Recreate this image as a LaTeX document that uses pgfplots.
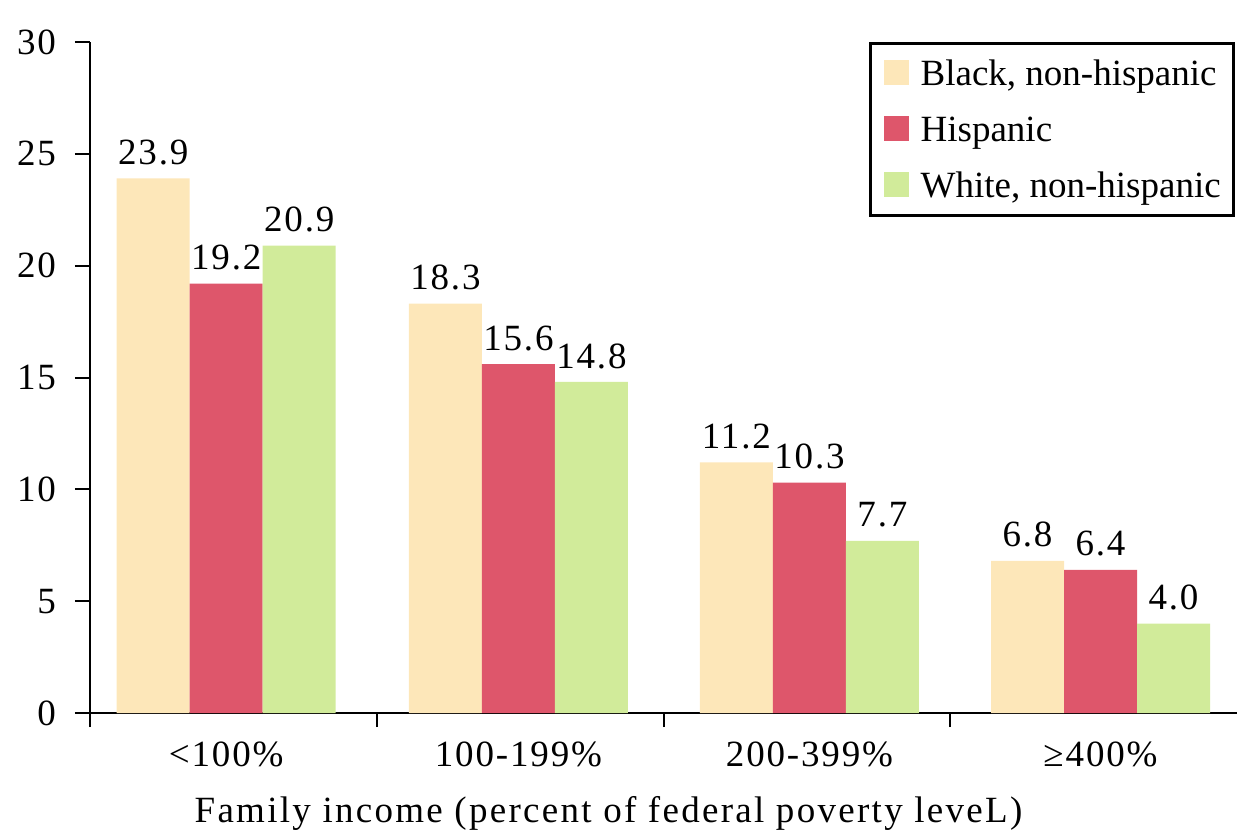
\documentclass[border=0pt]{standalone}
\usepackage{fontspec}
\setmainfont[LetterSpace=5]{Liberation Serif}
\newfontfamily\lgfont{Liberation Serif}
\newfontfamily\xlfont[LetterSpace=6.2]{Liberation Serif}
\usepackage{pgfplots}
\pgfplotsset{compat=1.18}
\definecolor{cb}{RGB}{253,231,185}
\definecolor{ch}{RGB}{222,86,107}
\definecolor{cw}{RGB}{209,235,154}
\newcommand{\cf}{\fontsize{18.5}{22}\selectfont}
\begin{document}
\begin{tikzpicture}
\begin{axis}[
  scale only axis, width=573.5pt, height=335.5pt,
  xmin=-0.5, xmax=3.5, ymin=0, ymax=30,
  ybar=0pt, bar width=36.5pt,
  axis x line*=bottom, axis y line*=left,
  axis line style={line width=1pt, black},
  xtick={-0.025,0.994,2.009,3.024},
  xticklabels={<100\%,100-199\%,200-399\%,≥400\%},
  major x tick style={draw=none},
  minor xtick={-0.5,0.5,1.5,2.5},
  minor tick length=7pt,
  minor x tick style={line width=1pt, black},
  ytick={0,5,...,30},
  tick align=outside, major tick length=7.5pt,
  major y tick style={line width=1pt, black},
  tick label style={font=\cf},
  xticklabel style={anchor=base, yshift=-19pt},
  yticklabel style={anchor=east, xshift=-6pt},
  /pgf/number format/assume math mode=true,
  xlabel={\xlfont Family income (percent of federal poverty leveL)},
  xlabel style={font=\cf, at={(axis description cs:0.452,0)}, anchor=base, yshift=-54.5pt},
  nodes near coords={\pgfmathprintnumber[fixed,fixed zerofill,precision=1,assume math mode=true]{\pgfplotspointmeta}},
  every node near coord/.append style={anchor=south, inner sep=0pt, yshift=6.5pt, font=\cf, black},
  legend image code/.code={\fill[#1] (0pt,0pt) rectangle (12.5pt,12.5pt);},
  legend style={at={(rel axis cs:1,1)}, anchor=north east, xshift=-1pt,
    draw=black, line width=1.3pt, font=\cf\lgfont,
    row sep=4pt, column sep=6pt, inner xsep=6.5pt, inner ysep=3pt,
    nodes={inner sep=0pt, text height=18pt, text depth=6pt},
    cells={anchor=base west}},
]
\addplot[fill=cb, draw=none] coordinates {(-0.025,23.9) (0.994,18.3) (2.009,11.2) (3.024,6.8)};
\addplot[fill=ch, draw=none] coordinates {(-0.025,19.2) (0.994,15.6) (2.009,10.3) (3.024,6.4)};
\addplot[fill=cw, draw=none] coordinates {(-0.025,20.9) (0.994,14.8) (2.009,7.7) (3.024,4.0)};
\legend{{Black, non-hispanic\hspace{5pt}}, {Hispanic}, {White, non-hispanic\hspace{5pt}}}
\coordinate (bl) at (rel axis cs:0,0);
\coordinate (tr) at (rel axis cs:1,1);
\end{axis}
\pgfresetboundingbox
\path ([shift={(-45pt,-62pt)}]bl) rectangle ([shift={(0pt,21pt)}]tr);
\end{tikzpicture}
\end{document}
